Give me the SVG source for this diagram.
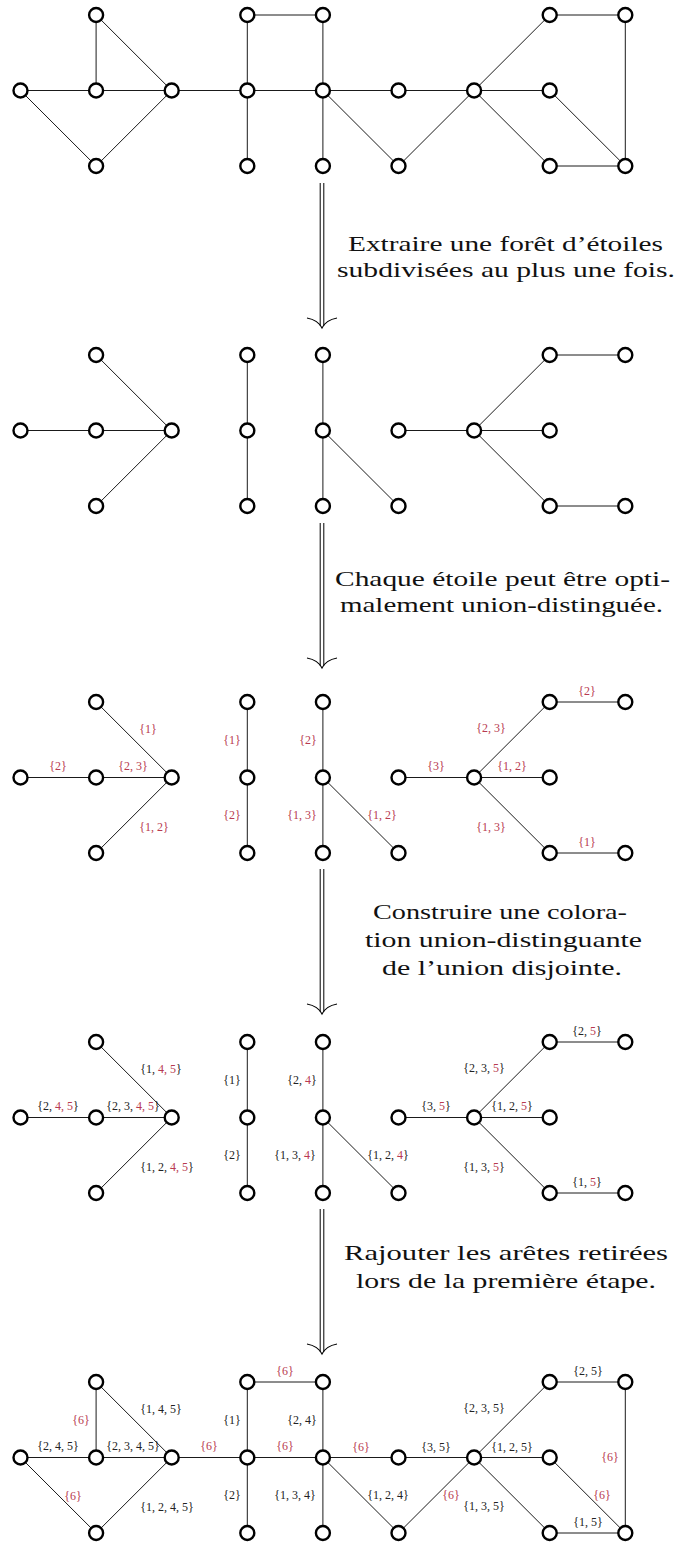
<svg xmlns="http://www.w3.org/2000/svg" xmlns:xlink="http://www.w3.org/1999/xlink" width="677" height="1542" viewBox="0 0 677 1542">
<style>
.n{fill:#fff;stroke:#000;stroke-width:2.4}
.l{font-family:"Liberation Serif","Times New Roman",serif;font-size:12px;text-anchor:middle;fill:#222}
.r{fill:#b83a50}
.t{font-family:"Liberation Serif","Times New Roman",serif;font-size:22px;text-anchor:middle;fill:#111}
</style>
<defs>
<g id="E1" stroke="#000" stroke-width="0.9" fill="none">
<line x1="20.5" y1="90.5" x2="96.1" y2="90.5"/>
<line x1="96.1" y1="90.5" x2="171.7" y2="90.5"/>
<line x1="96.1" y1="15" x2="96.1" y2="90.5"/>
<line x1="96.1" y1="15" x2="171.7" y2="90.5"/>
<line x1="20.5" y1="90.5" x2="96.1" y2="166"/>
<line x1="96.1" y1="166" x2="171.7" y2="90.5"/>
<line x1="171.7" y1="90.5" x2="247.3" y2="90.5"/>
<line x1="247.3" y1="15" x2="322.9" y2="15"/>
<line x1="247.3" y1="15" x2="247.3" y2="90.5"/>
<line x1="322.9" y1="15" x2="322.9" y2="90.5"/>
<line x1="247.3" y1="90.5" x2="322.9" y2="90.5"/>
<line x1="247.3" y1="90.5" x2="247.3" y2="166"/>
<line x1="322.9" y1="90.5" x2="322.9" y2="166"/>
<line x1="322.9" y1="90.5" x2="398.5" y2="90.5"/>
<line x1="322.9" y1="90.5" x2="398.5" y2="166"/>
<line x1="398.5" y1="166" x2="474.1" y2="90.5"/>
<line x1="398.5" y1="90.5" x2="474.1" y2="90.5"/>
<line x1="474.1" y1="90.5" x2="549.7" y2="15"/>
<line x1="549.7" y1="15" x2="625.3" y2="15"/>
<line x1="625.3" y1="15" x2="625.3" y2="166"/>
<line x1="474.1" y1="90.5" x2="549.7" y2="90.5"/>
<line x1="549.7" y1="90.5" x2="625.3" y2="166"/>
<line x1="474.1" y1="90.5" x2="549.7" y2="166"/>
<line x1="549.7" y1="166" x2="625.3" y2="166"/>
</g>
<g id="E2" stroke="#000" stroke-width="0.9" fill="none">
<line x1="20.5" y1="90.5" x2="96.1" y2="90.5"/>
<line x1="96.1" y1="90.5" x2="171.7" y2="90.5"/>
<line x1="96.1" y1="15" x2="171.7" y2="90.5"/>
<line x1="96.1" y1="166" x2="171.7" y2="90.5"/>
<line x1="247.3" y1="15" x2="247.3" y2="90.5"/>
<line x1="247.3" y1="90.5" x2="247.3" y2="166"/>
<line x1="322.9" y1="15" x2="322.9" y2="90.5"/>
<line x1="322.9" y1="90.5" x2="322.9" y2="166"/>
<line x1="322.9" y1="90.5" x2="398.5" y2="166"/>
<line x1="398.5" y1="90.5" x2="474.1" y2="90.5"/>
<line x1="474.1" y1="90.5" x2="549.7" y2="15"/>
<line x1="549.7" y1="15" x2="625.3" y2="15"/>
<line x1="474.1" y1="90.5" x2="549.7" y2="90.5"/>
<line x1="474.1" y1="90.5" x2="549.7" y2="166"/>
<line x1="549.7" y1="166" x2="625.3" y2="166"/>
</g>
<g id="AR" stroke="#000" fill="none">
<line x1="320.2" y1="0" x2="320.2" y2="143" stroke-width="1"/>
<line x1="323.8" y1="0" x2="323.8" y2="143" stroke-width="1"/>
<path d="M307,135 Q318,137 322,145 Q326,137 337,135" stroke-width="1.2"/>
</g>
</defs>

<g id="connectors">
<use xlink:href="#E1"/>
<use xlink:href="#E2" y="340"/>
<use xlink:href="#E2" y="687"/>
<use xlink:href="#E2" y="1027"/>
<use xlink:href="#E1" y="1367"/>
</g>

<g id="arrows">
<use id="arrow1" xlink:href="#AR" y="183"/>
<use id="arrow2" xlink:href="#AR" y="523"/>
<use id="arrow3" xlink:href="#AR" y="869"/>
<use id="arrow4" xlink:href="#AR" y="1209"/>
</g>

<!-- Stage 1 nodes -->
<g id="s1-a"><circle class="n" cx="20.5" cy="90.5" r="7"/></g>
<g id="s1-b"><circle class="n" cx="96.1" cy="15" r="7"/></g>
<g id="s1-c"><circle class="n" cx="96.1" cy="90.5" r="7"/></g>
<g id="s1-d"><circle class="n" cx="96.1" cy="166" r="7"/></g>
<g id="s1-e"><circle class="n" cx="171.7" cy="90.5" r="7"/></g>
<g id="s1-f"><circle class="n" cx="247.3" cy="15" r="7"/></g>
<g id="s1-g"><circle class="n" cx="247.3" cy="90.5" r="7"/></g>
<g id="s1-h"><circle class="n" cx="247.3" cy="166" r="7"/></g>
<g id="s1-i"><circle class="n" cx="322.9" cy="15" r="7"/></g>
<g id="s1-j"><circle class="n" cx="322.9" cy="90.5" r="7"/></g>
<g id="s1-k"><circle class="n" cx="322.9" cy="166" r="7"/></g>
<g id="s1-l"><circle class="n" cx="398.5" cy="90.5" r="7"/></g>
<g id="s1-m"><circle class="n" cx="398.5" cy="166" r="7"/></g>
<g id="s1-n"><circle class="n" cx="474.1" cy="90.5" r="7"/></g>
<g id="s1-o"><circle class="n" cx="549.7" cy="15" r="7"/></g>
<g id="s1-p"><circle class="n" cx="549.7" cy="90.5" r="7"/></g>
<g id="s1-q"><circle class="n" cx="549.7" cy="166" r="7"/></g>
<g id="s1-r"><circle class="n" cx="625.3" cy="15" r="7"/></g>
<g id="s1-s"><circle class="n" cx="625.3" cy="166" r="7"/></g>

<!-- Stage 2 nodes -->
<g id="s2-a"><circle class="n" cx="20.5" cy="430.5" r="7"/></g>
<g id="s2-b"><circle class="n" cx="96.1" cy="355" r="7"/></g>
<g id="s2-c"><circle class="n" cx="96.1" cy="430.5" r="7"/></g>
<g id="s2-d"><circle class="n" cx="96.1" cy="506" r="7"/></g>
<g id="s2-e"><circle class="n" cx="171.7" cy="430.5" r="7"/></g>
<g id="s2-f"><circle class="n" cx="247.3" cy="355" r="7"/></g>
<g id="s2-g"><circle class="n" cx="247.3" cy="430.5" r="7"/></g>
<g id="s2-h"><circle class="n" cx="247.3" cy="506" r="7"/></g>
<g id="s2-i"><circle class="n" cx="322.9" cy="355" r="7"/></g>
<g id="s2-j"><circle class="n" cx="322.9" cy="430.5" r="7"/></g>
<g id="s2-k"><circle class="n" cx="322.9" cy="506" r="7"/></g>
<g id="s2-l"><circle class="n" cx="398.5" cy="430.5" r="7"/></g>
<g id="s2-m"><circle class="n" cx="398.5" cy="506" r="7"/></g>
<g id="s2-n"><circle class="n" cx="474.1" cy="430.5" r="7"/></g>
<g id="s2-o"><circle class="n" cx="549.7" cy="355" r="7"/></g>
<g id="s2-p"><circle class="n" cx="549.7" cy="430.5" r="7"/></g>
<g id="s2-q"><circle class="n" cx="549.7" cy="506" r="7"/></g>
<g id="s2-r"><circle class="n" cx="625.3" cy="355" r="7"/></g>
<g id="s2-s"><circle class="n" cx="625.3" cy="506" r="7"/></g>

<!-- Stage 3 nodes -->
<g id="s3-a"><circle class="n" cx="20.5" cy="777.5" r="7"/></g>
<g id="s3-b"><circle class="n" cx="96.1" cy="702" r="7"/></g>
<g id="s3-c"><circle class="n" cx="96.1" cy="777.5" r="7"/></g>
<g id="s3-d"><circle class="n" cx="96.1" cy="853" r="7"/></g>
<g id="s3-e"><circle class="n" cx="171.7" cy="777.5" r="7"/></g>
<g id="s3-f"><circle class="n" cx="247.3" cy="702" r="7"/></g>
<g id="s3-g"><circle class="n" cx="247.3" cy="777.5" r="7"/></g>
<g id="s3-h"><circle class="n" cx="247.3" cy="853" r="7"/></g>
<g id="s3-i"><circle class="n" cx="322.9" cy="702" r="7"/></g>
<g id="s3-j"><circle class="n" cx="322.9" cy="777.5" r="7"/></g>
<g id="s3-k"><circle class="n" cx="322.9" cy="853" r="7"/></g>
<g id="s3-l"><circle class="n" cx="398.5" cy="777.5" r="7"/></g>
<g id="s3-m"><circle class="n" cx="398.5" cy="853" r="7"/></g>
<g id="s3-n"><circle class="n" cx="474.1" cy="777.5" r="7"/></g>
<g id="s3-o"><circle class="n" cx="549.7" cy="702" r="7"/></g>
<g id="s3-p"><circle class="n" cx="549.7" cy="777.5" r="7"/></g>
<g id="s3-q"><circle class="n" cx="549.7" cy="853" r="7"/></g>
<g id="s3-r"><circle class="n" cx="625.3" cy="702" r="7"/></g>
<g id="s3-s"><circle class="n" cx="625.3" cy="853" r="7"/></g>

<!-- Stage 4 nodes -->
<g id="s4-a"><circle class="n" cx="20.5" cy="1117.5" r="7"/></g>
<g id="s4-b"><circle class="n" cx="96.1" cy="1042" r="7"/></g>
<g id="s4-c"><circle class="n" cx="96.1" cy="1117.5" r="7"/></g>
<g id="s4-d"><circle class="n" cx="96.1" cy="1193" r="7"/></g>
<g id="s4-e"><circle class="n" cx="171.7" cy="1117.5" r="7"/></g>
<g id="s4-f"><circle class="n" cx="247.3" cy="1042" r="7"/></g>
<g id="s4-g"><circle class="n" cx="247.3" cy="1117.5" r="7"/></g>
<g id="s4-h"><circle class="n" cx="247.3" cy="1193" r="7"/></g>
<g id="s4-i"><circle class="n" cx="322.9" cy="1042" r="7"/></g>
<g id="s4-j"><circle class="n" cx="322.9" cy="1117.5" r="7"/></g>
<g id="s4-k"><circle class="n" cx="322.9" cy="1193" r="7"/></g>
<g id="s4-l"><circle class="n" cx="398.5" cy="1117.5" r="7"/></g>
<g id="s4-m"><circle class="n" cx="398.5" cy="1193" r="7"/></g>
<g id="s4-n"><circle class="n" cx="474.1" cy="1117.5" r="7"/></g>
<g id="s4-o"><circle class="n" cx="549.7" cy="1042" r="7"/></g>
<g id="s4-p"><circle class="n" cx="549.7" cy="1117.5" r="7"/></g>
<g id="s4-q"><circle class="n" cx="549.7" cy="1193" r="7"/></g>
<g id="s4-r"><circle class="n" cx="625.3" cy="1042" r="7"/></g>
<g id="s4-s"><circle class="n" cx="625.3" cy="1193" r="7"/></g>

<!-- Stage 5 nodes -->
<g id="s5-a"><circle class="n" cx="20.5" cy="1457.5" r="7"/></g>
<g id="s5-b"><circle class="n" cx="96.1" cy="1382" r="7"/></g>
<g id="s5-c"><circle class="n" cx="96.1" cy="1457.5" r="7"/></g>
<g id="s5-d"><circle class="n" cx="96.1" cy="1533" r="7"/></g>
<g id="s5-e"><circle class="n" cx="171.7" cy="1457.5" r="7"/></g>
<g id="s5-f"><circle class="n" cx="247.3" cy="1382" r="7"/></g>
<g id="s5-g"><circle class="n" cx="247.3" cy="1457.5" r="7"/></g>
<g id="s5-h"><circle class="n" cx="247.3" cy="1533" r="7"/></g>
<g id="s5-i"><circle class="n" cx="322.9" cy="1382" r="7"/></g>
<g id="s5-j"><circle class="n" cx="322.9" cy="1457.5" r="7"/></g>
<g id="s5-k"><circle class="n" cx="322.9" cy="1533" r="7"/></g>
<g id="s5-l"><circle class="n" cx="398.5" cy="1457.5" r="7"/></g>
<g id="s5-m"><circle class="n" cx="398.5" cy="1533" r="7"/></g>
<g id="s5-n"><circle class="n" cx="474.1" cy="1457.5" r="7"/></g>
<g id="s5-o"><circle class="n" cx="549.7" cy="1382" r="7"/></g>
<g id="s5-p"><circle class="n" cx="549.7" cy="1457.5" r="7"/></g>
<g id="s5-q"><circle class="n" cx="549.7" cy="1533" r="7"/></g>
<g id="s5-r"><circle class="n" cx="625.3" cy="1382" r="7"/></g>
<g id="s5-s"><circle class="n" cx="625.3" cy="1533" r="7"/></g>

<!-- Stage 3 labels -->
<g id="labels3">
<text class="l r" x="148" y="733">{1}</text>
<text class="l r" x="58" y="770">{2}</text>
<text class="l r" x="133" y="770">{2, 3}</text>
<text class="l r" x="154" y="831">{1, 2}</text>
<text class="l r" x="232" y="744">{1}</text>
<text class="l r" x="232" y="819">{2}</text>
<text class="l r" x="308" y="744">{2}</text>
<text class="l r" x="302" y="819">{1, 3}</text>
<text class="l r" x="382" y="819">{1, 2}</text>
<text class="l r" x="587" y="695">{2}</text>
<text class="l r" x="491" y="732">{2, 3}</text>
<text class="l r" x="436" y="770">{3}</text>
<text class="l r" x="512" y="770">{1, 2}</text>
<text class="l r" x="491" y="831">{1, 3}</text>
<text class="l r" x="587" y="846">{1}</text>
</g>

<!-- Stage 4 labels -->
<g id="labels4">
<text class="l" x="161" y="1073">{1, <tspan class="r">4, 5</tspan>}</text>
<text class="l" x="58" y="1110">{2, <tspan class="r">4, 5</tspan>}</text>
<text class="l" x="133" y="1110">{2, 3, <tspan class="r">4, 5</tspan>}</text>
<text class="l" x="167" y="1171">{1, 2, <tspan class="r">4, 5</tspan>}</text>
<text class="l" x="232" y="1084">{1}</text>
<text class="l" x="232" y="1159">{2}</text>
<text class="l" x="302" y="1084">{2, <tspan class="r">4</tspan>}</text>
<text class="l" x="295" y="1159">{1, 3, <tspan class="r">4</tspan>}</text>
<text class="l" x="388" y="1159">{1, 2, <tspan class="r">4</tspan>}</text>
<text class="l" x="587" y="1035">{2, <tspan class="r">5</tspan>}</text>
<text class="l" x="484" y="1072">{2, 3, <tspan class="r">5</tspan>}</text>
<text class="l" x="436" y="1110">{3, <tspan class="r">5</tspan>}</text>
<text class="l" x="512" y="1110">{1, 2, <tspan class="r">5</tspan>}</text>
<text class="l" x="484" y="1171">{1, 3, <tspan class="r">5</tspan>}</text>
<text class="l" x="587" y="1186">{1, <tspan class="r">5</tspan>}</text>
</g>

<!-- Stage 5 labels -->
<g id="labels5">
<text class="l r" x="81" y="1424">{6}</text>
<text class="l" x="161" y="1413">{1, 4, 5}</text>
<text class="l" x="58" y="1450">{2, 4, 5}</text>
<text class="l" x="133" y="1450">{2, 3, 4, 5}</text>
<text class="l r" x="73" y="1500">{6}</text>
<text class="l" x="167" y="1511">{1, 2, 4, 5}</text>
<text class="l r" x="209" y="1450">{6}</text>
<text class="l r" x="285" y="1375">{6}</text>
<text class="l" x="232" y="1424">{1}</text>
<text class="l" x="302" y="1424">{2, 4}</text>
<text class="l r" x="285" y="1450">{6}</text>
<text class="l" x="232" y="1499">{2}</text>
<text class="l" x="295" y="1499">{1, 3, 4}</text>
<text class="l" x="588" y="1375">{2, 5}</text>
<text class="l" x="484" y="1412">{2, 3, 5}</text>
<text class="l r" x="361" y="1451">{6}</text>
<text class="l" x="436" y="1451">{3, 5}</text>
<text class="l" x="512" y="1451">{1, 2, 5}</text>
<text class="l r" x="610" y="1461">{6}</text>
<text class="l" x="388" y="1499">{1, 2, 4}</text>
<text class="l r" x="451" y="1499">{6}</text>
<text class="l" x="484" y="1510">{1, 3, 5}</text>
<text class="l r" x="602" y="1499">{6}</text>
<text class="l" x="588" y="1526">{1, 5}</text>
</g>

<!-- Step captions -->
<g id="caption1">
<text class="t" x="505.5" y="251" textLength="315" lengthAdjust="spacingAndGlyphs">Extraire une forêt d’étoiles</text>
<text class="t" x="506" y="277" textLength="338" lengthAdjust="spacingAndGlyphs">subdivisées au plus une fois.</text>
</g>
<g id="caption2">
<text class="t" x="502.5" y="586" textLength="335" lengthAdjust="spacingAndGlyphs">Chaque étoile peut être opti-</text>
<text class="t" x="501.5" y="612" textLength="323" lengthAdjust="spacingAndGlyphs">malement union-distinguée.</text>
</g>
<g id="caption3">
<text class="t" x="500" y="919" textLength="254" lengthAdjust="spacingAndGlyphs">Construire une colora-</text>
<text class="t" x="503.5" y="947" textLength="277" lengthAdjust="spacingAndGlyphs">tion union-distinguante</text>
<text class="t" x="502" y="975" textLength="240" lengthAdjust="spacingAndGlyphs">de l’union disjointe.</text>
</g>
<g id="caption4">
<text class="t" x="506" y="1260" textLength="324" lengthAdjust="spacingAndGlyphs">Rajouter les arêtes retirées</text>
<text class="t" x="506" y="1288" textLength="300" lengthAdjust="spacingAndGlyphs">lors de la première étape.</text>
</g>
</svg>
